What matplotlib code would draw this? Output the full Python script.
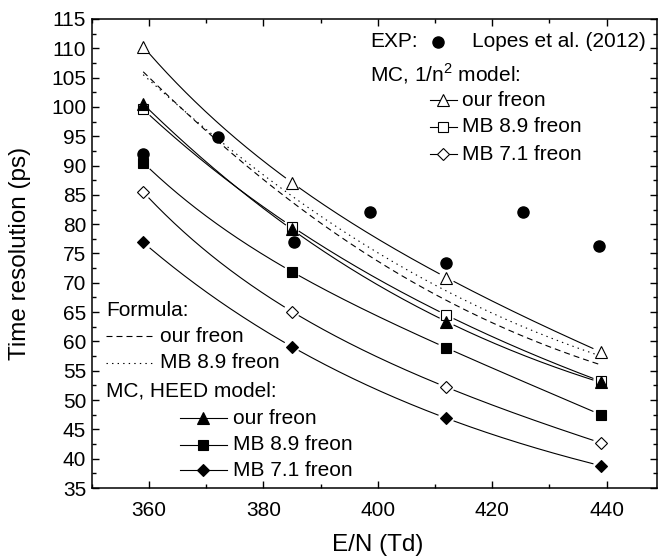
import numpy as np
import matplotlib
matplotlib.use("Agg")
import matplotlib.pyplot as plt
from matplotlib.ticker import MultipleLocator

plt.rcParams['font.family'] = ['Liberation Sans', 'DejaVu Sans']
plt.rcParams['lines.scale_dashes'] = False

# ---------------- data ----------------
en = [359, 385, 412, 439]                       # E/N (Td) of MC / formula points
n2_our = [110.3, 87.1, 70.9, 58.2]              # MC 1/n^2, our freon (open triangle)
n2_mb89 = [99.6, 79.6, 64.5, 53.2]              # MC 1/n^2, MB 8.9 freon (open square)
n2_mb71 = [85.5, 65.1, 52.2, 42.7]              # MC 1/n^2, MB 7.1 freon (open diamond)
heed_our = [100.5, 79.1, 63.4, 53.0]            # MC HEED, our freon (filled triangle)
heed_mb89 = [90.5, 71.9, 58.9, 47.5]            # MC HEED, MB 8.9 freon (filled square)
heed_mb71 = [76.9, 59.1, 46.9, 38.8]            # MC HEED, MB 7.1 freon (filled diamond)
formula_our = [106.0, 83.8, 67.0, 56.0]         # Formula, our freon (dashed)
formula_mb89 = [105.5, 84.8, 68.6, 57.5]        # Formula, MB 8.9 freon (dotted)
exp_en = [359, 372, 385.4, 398.6, 411.9, 425.3, 438.6]
exp_res = [92.0, 94.8, 77.0, 82.1, 73.4, 82.1, 76.3]   # Lopes et al. (2012)

x_ticks = [360, 380, 400, 420, 440]
y_ticks = list(range(35, 116, 5))

# ---------------- figure ----------------
W, H = 659, 557
fig = plt.figure(figsize=(W / 100, H / 100), dpi=100)
L, R, T_, B = 91.7, 657.0, 19.0, 488.0
ax = fig.add_axes([L / W, 1 - B / H, (R - L) / W, (B - T_) / H])
ax.set_xlim(350, 448.8)
ax.set_ylim(35, 115)
ax.set_xticks(x_ticks)
ax.set_yticks(y_ticks)
ax.xaxis.set_minor_locator(MultipleLocator(10))
ax.yaxis.set_minor_locator(MultipleLocator(2.5))
ax.tick_params(which='both', direction='in', top=True, right=True, width=1.0)
ax.tick_params(which='major', length=5, labelsize=15)
ax.tick_params(which='minor', length=3)
ax.tick_params(axis='x', which='major', pad=9)
ax.tick_params(axis='y', which='major', pad=4)
for s in ax.spines.values():
    s.set_linewidth(1.1)

ax.set_xlabel("E/N (Td)", fontsize=17.5)
ax.set_ylabel("Time resolution (ps)", fontsize=17.5)
ax.xaxis.set_label_coords((378 - L) / (R - L), (B - 534) / (B - T_))
ax.yaxis.set_label_coords((31 - L) / (R - L), 0.5)


def smooth(xs, ys, n=400):
    lx = np.log(np.asarray(xs, float))
    ly = np.log(np.asarray(ys, float))
    c = np.polyfit(lx, ly, len(xs) - 1)
    xf = np.linspace(xs[0], xs[-1], n)
    return xf, np.exp(np.polyval(c, np.log(xf)))


def gapped(xs, ys, r=8.0):
    xf, yf = smooth(xs, ys)
    pts = ax.transData.transform(np.column_stack([xf, yf]))
    mk = ax.transData.transform(np.column_stack([xs, ys]))
    d = np.min(np.hypot(pts[:, 0][:, None] - mk[:, 0][None, :],
                        pts[:, 1][:, None] - mk[:, 1][None, :]), axis=1)
    yf = np.where(d < r, np.nan, yf)
    return xf, yf


# formula curves
xf, yf = smooth(en, formula_our)
ax.plot(xf, yf, color='black', lw=0.8, dashes=(4.3, 2.9), zorder=2)
xf, yf = smooth(en, formula_mb89)
ax.plot(xf, yf, color='black', lw=0.8, dashes=(1.0, 3.0), zorder=2)

series = [
    (n2_our, '^', 9.0, 'white'),
    (n2_mb89, 's', 7.0, 'white'),
    (n2_mb71, 'D', 6.6, 'white'),
    (heed_our, '^', 9.0, 'black'),
    (heed_mb89, 's', 7.0, 'black'),
    (heed_mb71, 'D', 6.6, 'black'),
]
for vals, m, ms, fc in series:
    xf, yf = gapped(en, vals)
    ax.plot(xf, yf, color='black', lw=0.8, zorder=2)
for vals, m, ms, fc in series:
    ax.plot(en, vals, linestyle='none', marker=m, ms=ms, mfc=fc, mec='black',
            mew=0.8, zorder=4)

ax.plot(exp_en, exp_res, linestyle='none', marker='o', ms=8, color='black', zorder=5)

# ---------------- legend (built by hand to match layout) ----------------
TA = ax.transAxes


def fx(px):
    return (px - L) / (R - L)


def fy(py):
    return (B - py) / (B - T_)


FS = 15
kw = dict(transform=TA, fontsize=FS, va='center', ha='left')
ax.text(fx(370), fy(41.7), "EXP:", **kw)
ax.plot([fx(438)], [fy(41.7)], marker='o', ms=8, color='black', transform=TA,
        clip_on=False)
ax.text(fx(471.7), fy(41.7), "Lopes et al. (2012)", **kw)
ax.text(fx(370), fy(73.3), r"MC, 1/n$^\mathregular{2}$ model:", **kw)

rows_top = [(100.0, '^', 9.0, 'white', 'our freon'),
            (126.7, 's', 7.0, 'white', 'MB 8.9 freon'),
            (154.0, 'D', 6.6, 'white', 'MB 7.1 freon')]
for py, m, ms, fc, lab in rows_top:
    ax.plot([fx(430), fx(456.7)], [fy(py), fy(py)], color='black', lw=0.8,
            transform=TA, clip_on=False)
    ax.plot([fx(443.3)], [fy(py)], marker=m, ms=ms, mfc=fc, mec='black',
            mew=0.8, transform=TA, clip_on=False)
    ax.text(fx(461.7), fy(py), lab, **kw)

ax.text(fx(106.7), fy(310), "Formula:", **kw)
ax.plot([fx(106), fx(153.3)], [fy(336), fy(336)], color='black', lw=0.8,
        dashes=(4.3, 2.9), transform=TA)
ax.text(fx(160), fy(336), "our freon", **kw)
ax.plot([fx(106), fx(153.3)], [fy(362.7), fy(362.7)], color='black', lw=0.8,
        dashes=(1.0, 3.0), transform=TA)
ax.text(fx(160), fy(362.7), "MB 8.9 freon", **kw)
ax.text(fx(106), fy(390.7), "MC, HEED model:", **kw)

rows_bot = [(418.3, '^', 9.0, 'black', 'our freon'),
            (445.0, 's', 7.0, 'black', 'MB 8.9 freon'),
            (470.0, 'D', 6.6, 'black', 'MB 7.1 freon')]
for py, m, ms, fc, lab in rows_bot:
    ax.plot([fx(180), fx(226.7)], [fy(py), fy(py)], color='black', lw=0.8,
            transform=TA)
    ax.plot([fx(203.3)], [fy(py)], marker=m, ms=ms, mfc=fc, mec='black',
            mew=0.8, transform=TA)
    ax.text(fx(233.3), fy(py), lab, **kw)

fig.savefig("out.png", dpi=100)
